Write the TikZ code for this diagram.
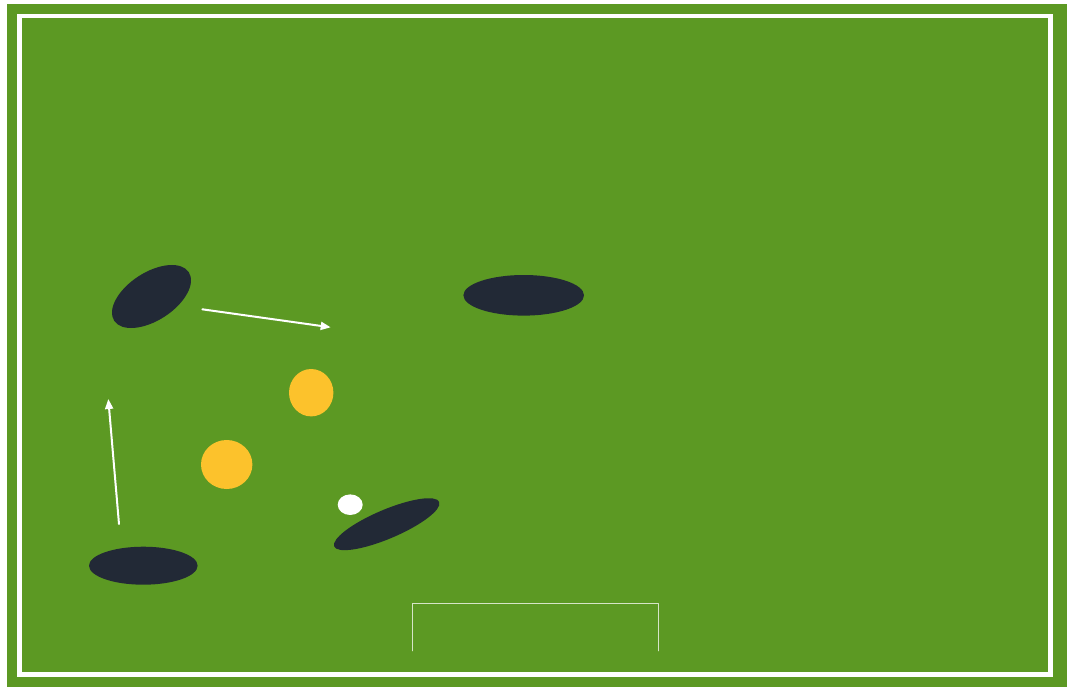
\documentclass[tikz,border=0pt]{standalone}
\usetikzlibrary{shapes.geometric,arrows.meta}
\definecolor{pitch}{RGB}{92,153,35}
\definecolor{shirt}{RGB}{34,41,54}
\definecolor{bib}{RGB}{252,194,44}
\begin{document}
\begin{tikzpicture}[x=1pt,y=-1pt,line cap=round,line join=round,>={Triangle[length=10pt,width=8pt]},
  player/.style={ellipse,fill=shirt,inner sep=0pt},
  cone/.style={ellipse,fill=bib,inner sep=0pt},
  run/.style={->,white,line width=2pt}]
  \useasboundingbox (0,0) rectangle (1067,687);
  \fill[white] (0,0) rectangle (1067,687);
  \fill[pitch] (7,4) rectangle (1067,687);
  \draw[white,line width=4.5pt,line cap=butt,line join=miter] (19.5,15.8) rectangle (1050.5,674.5);
  % goal
  \coordinate (gl) at (412.7,650.7);
  \coordinate (gr) at (658.3,650.7);
  \draw[white,opacity=0.75,line width=1.2pt] (gl) -- ++(0,-47.4) -| (gr);
  % players
  \foreach \n/\x/\y/\w/\h/\r in {pa/151.5/296.5/89/48/33, pb/523.7/295.3/120.6/40.6/0,
                                 pc/143.3/565.7/108.6/38/0, pd/386.7/524.2/114/29/23}{
    \node[player,minimum width=\w pt,minimum height=\h pt,rotate=\r] (\n) at (\x,\y) {};
  }
  \node[cone,minimum width=51.4pt,minimum height=49pt] (ya) at (226.7,464.5) {};
  \node[cone,minimum width=44.4pt,minimum height=47.4pt] (yb) at (311.2,392.7) {};
  \node[ellipse,fill=white,inner sep=0pt,minimum width=25pt,minimum height=20.6pt] (ball) at (350.2,504.7) {};
  % runs
  \coordinate (r1s) at (202.3,309.3);
  \coordinate (r1e) at (330.7,327.3);
  \coordinate (r2s) at (119,524);
  \coordinate (r2e) at (108.3,399);
  \draw[run] (r1s) -- (r1e);
  \draw[run] (r2s) -- (r2e);
\end{tikzpicture}
\end{document}
